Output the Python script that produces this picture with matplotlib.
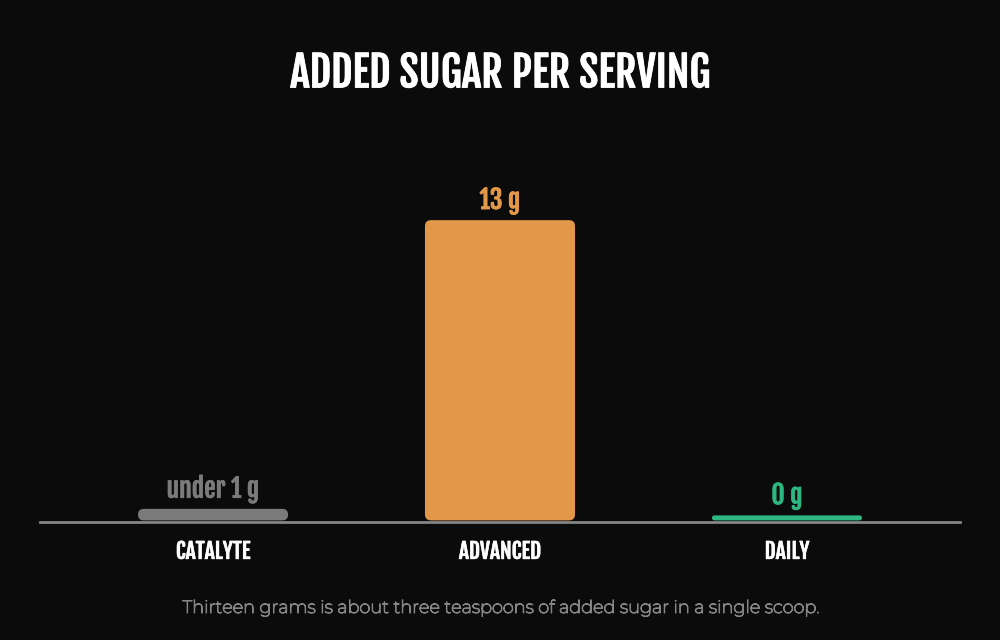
import numpy as np
import matplotlib.pyplot as plt
import matplotlib.patheffects as pe
from matplotlib.patches import FancyBboxPatch

# data
products = ['CATALYTE', 'ADVANCED', 'DAILY']
sugar_g = [0.5, 13, 0]
value_labels = ['under 1 g', '13 g', '0 g']
bar_colors = ['#7b7b7b', '#e39849', '#2bb77f']

title = 'ADDED SUGAR PER SERVING'
note = 'Thirteen grams is about three teaspoons of added sugar in a single scoop.'

bg = '#0b0b0b'
cond = ['Fjalla One', 'DejaVu Sans']
body = ['Montserrat', 'DejaVu Sans']


def bold(c, w):
    return [pe.withStroke(linewidth=w, foreground=c)]


fig = plt.figure(figsize=(10, 6.4), dpi=100, facecolor=bg)
ax = fig.add_axes([0.04, 0.184, 0.92, 0.581])
ax.set_facecolor(bg)

x = np.arange(len(products))
ax.set_xlim(-0.603, 2.603)
ax.set_ylim(0, 16.1)

# pixel sizes in data units
px_x = 0.92 * 1000 / 3.206
px_y = 0.581 * 640 / 16.1
min_stub = 5 / px_y   # zero values still get a thin line
aspect = px_x / px_y

bw = 0.523
for xi, v, c, lab in zip(x, sugar_g, bar_colors, value_labels):
    h = max(v, min_stub)
    h_px = h * px_y
    r_px = min(6, h_px / 2)
    patch = FancyBboxPatch((xi - bw / 2, 0.08), bw, h,
                           boxstyle=f'round,pad=0,rounding_size={r_px / px_x}',
                           mutation_aspect=aspect, fc=c, ec='none', zorder=2)
    ax.add_patch(patch)
    ax.annotate(lab, (xi, h), xytext=(0, 5), textcoords='offset points',
                ha='center', va='bottom', color=c, fontsize=18.5,
                family=cond, path_effects=bold(c, 0.5))

ax.axhline(0, color='#858585', lw=2, zorder=3, clip_on=False)

ax.set_xticks(x)
ax.set_xticklabels(products, color='white', fontsize=15.5, family=cond)
for t in ax.get_xticklabels():
    t.set_path_effects(bold('white', 0.4))
ax.tick_params(axis='x', length=0, pad=12)
ax.set_yticks([])
for s in ax.spines.values():
    s.set_visible(False)

fig.text(0.5, 0.886, title, ha='center', va='center', color='white',
         fontsize=30, family=cond, path_effects=bold('white', 0.6))
fig.text(0.5, 0.05, note, ha='center', va='center', color='#858585',
         fontsize=12.8, family=body, path_effects=bold('#858585', 0.8))

fig.savefig('out.png', dpi=100, facecolor=bg)
